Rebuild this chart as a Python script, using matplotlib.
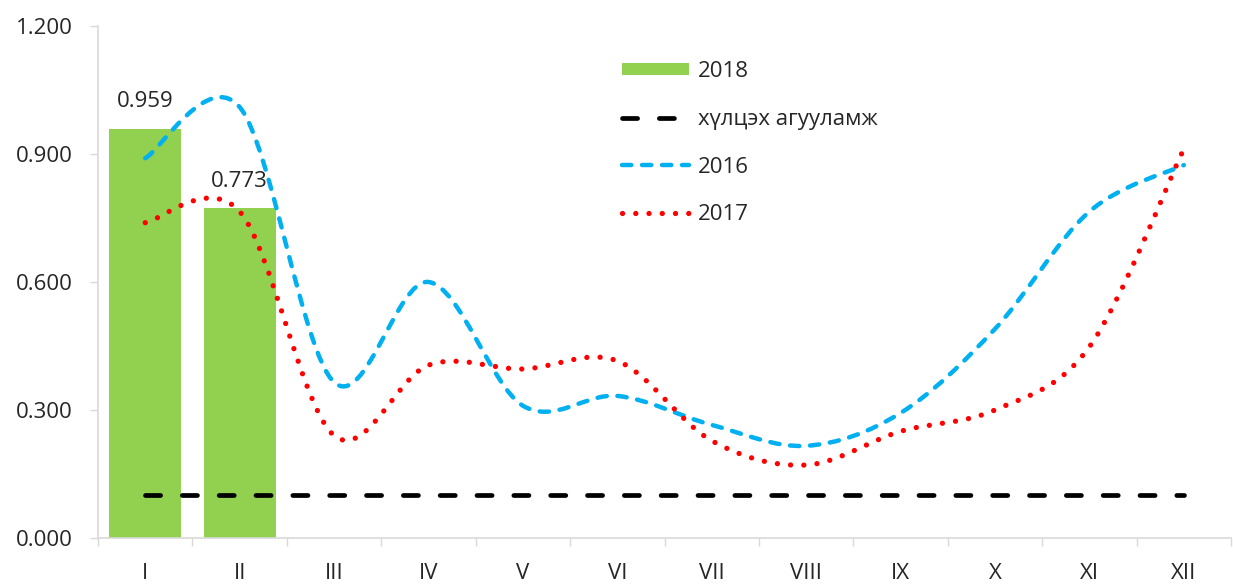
import matplotlib

matplotlib.use("Agg")

import matplotlib.pyplot as plt  # noqa: E402
import numpy as np  # noqa: E402
from matplotlib.path import Path  # noqa: E402
from matplotlib.patches import PathPatch  # noqa: E402
from matplotlib.lines import Line2D  # noqa: E402
from matplotlib.patches import Patch  # noqa: E402

plt.rcParams["font.family"] = ["Open Sans", "DejaVu Sans"]

# ───────────────────────────── Data ─────────────────────────────────────
months = ["I", "II", "III", "IV", "V", "VI", "VII", "VIII", "IX", "X", "XI", "XII"]
y2018 = [0.959, 0.773]
y2016 = [0.89, 1.01, 0.365, 0.60, 0.31, 0.333, 0.265, 0.216, 0.293, 0.49, 0.765, 0.874]
y2017 = [0.739, 0.765, 0.24, 0.405, 0.396, 0.415, 0.228, 0.171, 0.25, 0.30, 0.448, 0.912]
limit = [0.1] * 12
yticks = [0.0, 0.3, 0.6, 0.9, 1.2]

GREEN = "#92D050"
BLUE = "#00B0F0"
RED = "#FF0000"
GREY = "#D9D9D9"
FS = 16


def smooth_path(xs, ys):
    """Excel-style smoothed line: cubic Bezier through every point."""
    p = np.column_stack([xs, ys]).astype(float)
    n = len(p)
    verts = [p[0]]
    codes = [Path.MOVETO]
    for i in range(n - 1):
        p0 = p[i - 1] if i > 0 else p[i]
        p3 = p[i + 2] if i + 2 < n else p[i + 1]
        c1 = p[i] + (p[i + 1] - p0) / 6.0
        c2 = p[i + 1] - (p3 - p[i]) / 6.0
        verts += [c1, c2, p[i + 1]]
        codes += [Path.CURVE4] * 3
    return Path(verts, codes)


fig = plt.figure(figsize=(12.33, 5.84), dpi=100)
ax = fig.add_axes([0.0795, 0.0788, 0.9189, 0.8767])

x = np.arange(len(months))

ax.bar(x[: len(y2018)], y2018, width=0.76, color=GREEN, zorder=1)
for xi, v in zip(x, y2018):
    ax.annotate(f"{v:.3f}", (xi, v), xytext=(0, 12), textcoords="offset points",
                ha="center", va="bottom", fontsize=FS, color="#262626")

ax.plot(x, limit, color="black", lw=3.4, dashes=(3.2, 4.6),
        dash_capstyle="round", zorder=3)

styles = [
    (y2016, BLUE, 3.2, (2.1, 2.4)),
    (y2017, RED, 3.8, (0.01, 2.5)),
]
for ys, col, lw, dash in styles:
    patch = PathPatch(smooth_path(x, ys), facecolor="none", edgecolor=col,
                      lw=lw, linestyle=(0, dash), capstyle="round", zorder=4)
    ax.add_patch(patch)

ax.set_xlim(-0.5, len(months) - 0.5)
ax.set_ylim(0, 1.2)

ax.set_yticks(yticks)
ax.set_yticklabels([f"{t:.3f}" for t in yticks])
ax.set_xticks(x)
ax.set_xticklabels(months)
ax.set_xticks(np.arange(-0.5, len(months)), minor=True)

for side in ("top", "right"):
    ax.spines[side].set_visible(False)
for side in ("left", "bottom"):
    ax.spines[side].set_color(GREY)
    ax.spines[side].set_linewidth(1.2)

ax.tick_params(axis="y", length=6, width=1, color=GREY, pad=12,
               labelsize=FS, labelcolor="#262626")
ax.tick_params(axis="x", which="major", length=0, pad=18,
               labelsize=FS, labelcolor="#262626")
ax.tick_params(axis="x", which="minor", length=6, width=1, color=GREY)

handles = [
    Patch(facecolor=GREEN, edgecolor="none"),
    Line2D([], [], color="black", lw=3.4, dashes=(3.2, 4.6), dash_capstyle="round"),
    Line2D([], [], color=BLUE, lw=3.2, dashes=(2.1, 2.4), dash_capstyle="round"),
    Line2D([], [], color=RED, lw=3.8, dashes=(0.01, 2.5), dash_capstyle="round"),
]
labels = ["2018", "хүлцэх агууламж", "2016", "2017"]
leg = ax.legend(handles, labels, loc="upper left", bbox_to_anchor=(0.4625, 0.932),
                frameon=False, fontsize=FS, handlelength=3.0, handleheight=0.5,
                handletextpad=0.4, labelspacing=1.21, borderpad=0, borderaxespad=0)
for t in leg.get_texts():
    t.set_color("#262626")

fig.savefig("out.png", dpi=100)
